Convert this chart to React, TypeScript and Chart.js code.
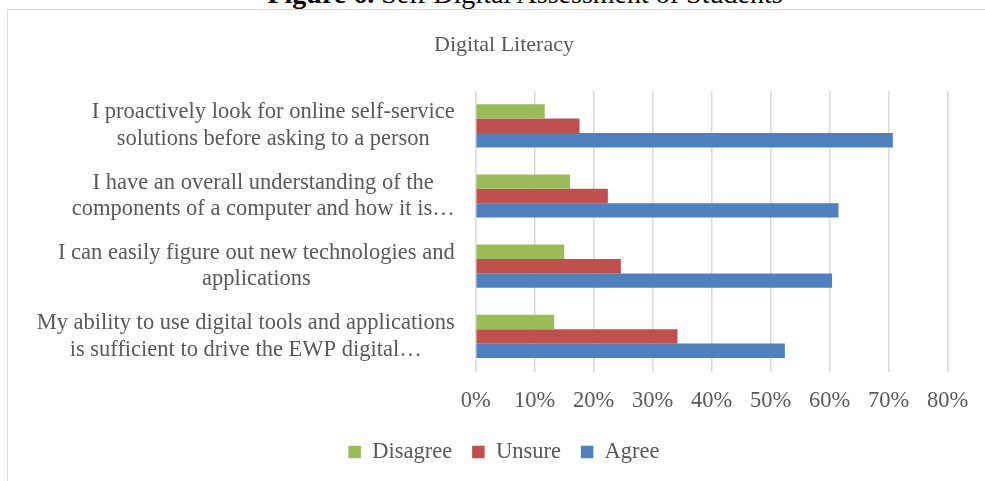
import React, { useEffect, useRef } from "react";
import { Chart, registerables } from "chart.js";

Chart.register(...registerables);

const caption = "Self Digital Assessment of Students";
const captionLabel = "Figure 6.";
const chartTitle = "Digital Literacy";

const categories: string[][] = [
  ["I proactively look for online self-service", "solutions before asking to a person"],
  ["I have an overall understanding of the", "components of a computer and how it is…"],
  ["I can easily figure out new technologies and", "applications"],
  ["My ability to use digital tools and applications", "is sufficient to drive the EWP digital…"],
];

const seriesNames = ["Disagree", "Unsure", "Agree"];
const disagree = [0.117, 0.16, 0.15, 0.133];
const unsure = [0.176, 0.224, 0.246, 0.342];
const agree = [0.707, 0.615, 0.604, 0.524];

const xTicksMax = 0.8;
const xTicksStep = 0.1;

const FONT = '"Liberation Serif", "Times New Roman", serif';
const GREY = "#595959";

const yLabelPlugin = {
  id: "yLabelPlugin",
  afterDraw(chart: any) {
    const yScale = chart.scales.y;
    const ctx = chart.ctx;
    ctx.save();
    ctx.font = `22.5px ${FONT}`;
    ctx.fillStyle = GREY;
    ctx.textAlign = "center";
    ctx.textBaseline = "middle";
    const lineH = 26.6;
    const rightEdge = yScale.right - 21;
    categories.forEach((lines, i) => {
      const y = yScale.getPixelForTick(i);
      const w = Math.max(...lines.map((l) => ctx.measureText(l).width));
      const cx = rightEdge - w / 2;
      const startY = y - ((lines.length - 1) * lineH) / 2;
      lines.forEach((l, j) => ctx.fillText(l, cx, startY + j * lineH));
    });
    ctx.restore();
  },
};

export default function App() {
  const ref = useRef<HTMLCanvasElement | null>(null);
  useEffect(() => {
    if (!ref.current) return;
    const chart = new Chart(ref.current, {
      type: "bar",
      data: {
        labels: categories,
        datasets: [
          { label: seriesNames[0], data: disagree, backgroundColor: "#9BBB59" },
          { label: seriesNames[1], data: unsure, backgroundColor: "#C0504D" },
          { label: seriesNames[2], data: agree, backgroundColor: "#4F81BD" },
        ],
      },
      options: {
        indexAxis: "y",
        responsive: false,
        animation: false,
        devicePixelRatio: 1,
        layout: { padding: { left: 52.3, right: 50.3, top: 0, bottom: 26.75 } },
        datasets: { bar: { categoryPercentage: 0.615, barPercentage: 1 } },
        scales: {
          x: {
            min: 0,
            max: xTicksMax,
            ticks: {
              stepSize: xTicksStep,
              padding: 16,
              color: GREY,
              font: { family: FONT, size: 22.5 },
              callback: (v: any) => Math.round(Number(v) * 100) + "%",
            },
            grid: { color: "#d9d9d9", lineWidth: 1.5, drawTicks: false },
            border: { display: false },
            afterFit: (s: any) => {
              s.height -= 9.75;
            },
          },
          y: {
            ticks: { display: false },
            grid: { display: false },
            border: { display: false },
            afterFit: (s: any) => {
              s.width = 415.4;
            },
          },
        },
        plugins: {
          title: {
            display: true,
            text: chartTitle,
            color: GREY,
            font: { family: FONT, size: 22, weight: "normal" },
            padding: { top: 22.4, bottom: 31.9 },
          },
          legend: {
            position: "bottom",
            labels: {
              boxWidth: 12.5,
              boxHeight: 12.5,
              padding: 20,
              color: GREY,
              font: { family: FONT, size: 22.5 },
            },
          },
          tooltip: { enabled: false },
        },
      },
      plugins: [yLabelPlugin],
    } as any);
    return () => chart.destroy();
  }, []);

  return (
    <div
      style={{
        position: "fixed",
        left: 0,
        top: 0,
        width: 985,
        height: 481,
        overflow: "hidden",
        background: "#fff",
      }}
    >
      <div
        style={{
          position: "absolute",
          left: 525,
          top: -20.5,
          transform: "translateX(-50%)",
          whiteSpace: "nowrap",
          fontFamily: FONT,
          fontSize: 28,
          lineHeight: "28px",
          color: "#000",
        }}
      >
        <b>{captionLabel}</b> {caption}
      </div>
      <div
        style={{
          position: "absolute",
          left: 7,
          top: 9,
          width: 990,
          height: 490,
          border: "1px solid #d9d9d9",
        }}
      >
        <canvas ref={ref} width={990} height={490} style={{ display: "block" }} />
      </div>
    </div>
  );
}
